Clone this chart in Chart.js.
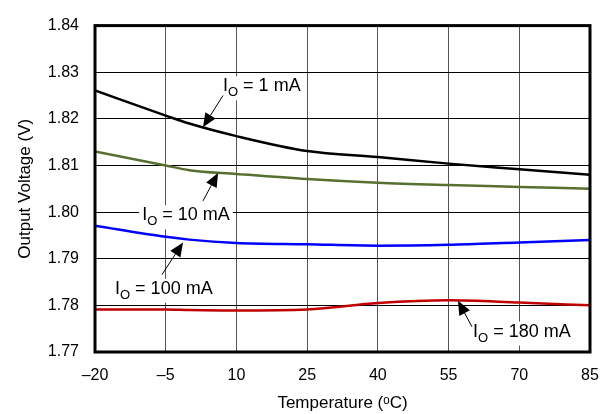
<!DOCTYPE html>
<html><head><meta charset="utf-8">
<script src="https://cdn.jsdelivr.net/npm/chart.js@4"></script>
<style>html,body{margin:0;padding:0;background:#fff}#wrap{width:613px;height:414px}</style>
</head><body><div id="wrap"><canvas id="c" width="613" height="414"></canvas></div>
<script>
// ---- data ----
const temps   = [-20, -5, 0, 10, 25, 40, 55, 70, 85];
const xTicks  = [-20, -5, 10, 25, 40, 55, 70, 85];
const yTicks  = [1.77, 1.78, 1.79, 1.80, 1.81, 1.82, 1.83, 1.84];
const io1mA   = [1.8261, 1.8207, 1.8190, 1.8163, 1.8131, 1.8118, 1.8104, 1.8092, 1.8080];
const io10mA  = [1.8130, 1.8100, 1.8090, 1.8082, 1.8071, 1.8063, 1.8058, 1.8054, 1.8050];
const io100mA = [1.7971, 1.7947, 1.7941, 1.7934, 1.7931, 1.7928, 1.7930, 1.7935, 1.7940];
const io180mA = [1.7791, 1.7791, 1.7790, 1.7789, 1.7791, 1.7805, 1.7811, 1.7806, 1.7800];
const seriesNames = ['1 mA', '10 mA', '100 mA', '180 mA'];

const FONT = "'Liberation Sans', Arial, Helvetica, sans-serif";
const toPts = arr => temps.map((t, i) => ({x: t, y: arr[i]}));

const annotations = [
  {name: seriesNames[0], tx: 7.15,  ty: 1.8259, ax: 7.15,  ay: 1.8250, px: 2.9,  py: 1.8182},
  {name: seriesNames[1], tx: -10.0, ty: 1.79825, ax: 2.9,  ay: 1.8024, px: 6.1,  py: 1.8084},
  {name: seriesNames[2], tx: -15.76, ty: 1.7825, ax: -5.79, ay: 1.7866, px: -1.33, py: 1.7935},
  {name: seriesNames[3], tx: 60.19, ty: 1.7733, ax: 59.97, ay: 1.7754, px: 57.0, py: 1.7810}
];

const framePlugin = {
  id: 'frame',
  afterDatasetsDraw(chart) {
    const {ctx, chartArea: a, scales: {x, y}} = chart;
    ctx.save();
    ctx.strokeStyle = '#000';
    ctx.lineWidth = 3;
    ctx.strokeRect(a.left, a.top, a.right - a.left, a.bottom - a.top);
    annotations.forEach(an => {
      const tx = x.getPixelForValue(an.tx), ty = y.getPixelForValue(an.ty);
      const big = '18px ' + FONT, small = '13px ' + FONT;
      ctx.font = big; const wI = ctx.measureText('I').width;
      ctx.font = small; const wO = ctx.measureText('O').width;
      ctx.font = big; const rest = ' = ' + an.name; const wR = ctx.measureText(rest).width;
      const w = wI + wO + wR;
      ctx.fillStyle = '#fff';
      ctx.fillRect(tx - 3, ty - 15, w + 6, 24);
      ctx.fillStyle = '#000';
      ctx.textBaseline = 'alphabetic';
      ctx.textAlign = 'left';
      ctx.font = big; ctx.fillText('I', tx, ty);
      ctx.font = small; ctx.fillText('O', tx + wI, ty + 5);
      ctx.font = big; ctx.fillText(rest, tx + wI + wO, ty);
      const ax = x.getPixelForValue(an.ax), ay = y.getPixelForValue(an.ay);
      const px = x.getPixelForValue(an.px), py = y.getPixelForValue(an.py);
      const ang = Math.atan2(py - ay, px - ax);
      const L = 14, H = 6;
      const bx = px - L * Math.cos(ang), by = py - L * Math.sin(ang);
      ctx.strokeStyle = '#000'; ctx.lineWidth = 1;
      ctx.beginPath(); ctx.moveTo(ax, ay); ctx.lineTo(bx, by); ctx.stroke();
      ctx.beginPath();
      ctx.moveTo(px, py);
      ctx.lineTo(bx + H * Math.sin(ang), by - H * Math.cos(ang));
      ctx.lineTo(bx - H * Math.sin(ang), by + H * Math.cos(ang));
      ctx.closePath(); ctx.fill();
    });
    ctx.restore();
  }
};

const mk = (label, arr, color) => ({
  label, data: toPts(arr), borderColor: color, backgroundColor: color,
  borderWidth: 2.5, pointRadius: 0, fill: false, cubicInterpolationMode: 'monotone'
});

new Chart(document.getElementById('c'), {
  type: 'line',
  data: {
    datasets: [
      mk('IO = ' + seriesNames[0], io1mA, '#000000'),
      mk('IO = ' + seriesNames[1], io10mA, '#57702f'),
      mk('IO = ' + seriesNames[2], io100mA, '#0000ff'),
      mk('IO = ' + seriesNames[3], io180mA, '#c00000')
    ]
  },
  options: {
    responsive: false,
    animation: false,
    devicePixelRatio: 1,
    layout: {padding: {top: 15, right: 23, left: 0, bottom: 0}},
    plugins: {legend: {display: false}, tooltip: {enabled: false}},
    scales: {
      x: {
        type: 'linear', min: -20, max: 85,
        afterBuildTicks: s => { s.ticks = xTicks.map(v => ({value: v})); },
        afterFit: s => { s.height = 62; },
        ticks: {
          color: '#000', padding: 14, maxRotation: 0, autoSkip: false,
          font: {family: FONT, size: 16},
          callback: v => v < 0 ? '\u2013' + Math.abs(v) : String(v)
        },
        grid: {color: '#555', lineWidth: 1, drawTicks: false},
        border: {display: false},
        title: {display: true, text: 'Temperature (\u1D52C)', color: '#000',
                font: {family: FONT, size: 17}, padding: {top: 0, bottom: 0}}
      },
      y: {
        min: 1.77, max: 1.84,
        afterBuildTicks: s => { s.ticks = yTicks.map(v => ({value: v})); },
        afterFit: s => { s.width = 95; },
        ticks: {
          color: '#000', padding: 16,
          font: {family: FONT, size: 16},
          callback: v => Number(v).toFixed(2)
        },
        grid: {color: '#000', lineWidth: 1, drawTicks: false},
        border: {display: false},
        title: {display: true, text: 'Output Voltage (V)', color: '#000',
                font: {family: FONT, size: 17}, padding: {top: 15, bottom: 0}}
      }
    }
  },
  plugins: [framePlugin]
});
</script></body></html>
